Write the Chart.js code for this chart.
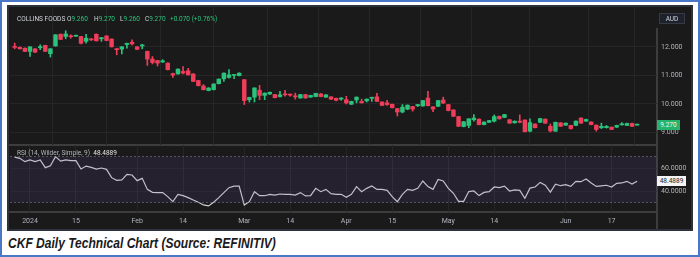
<!DOCTYPE html>
<html>
<head>
<meta charset="utf-8">
<script src="https://cdn.jsdelivr.net/npm/chart.js@4.4.1/dist/chart.umd.min.js"></script>
<style>
  html, body { margin: 0; padding: 0; background: #fff; width: 700px; height: 257px; overflow: hidden; }
  #frame { position: absolute; left: 0; top: 0; width: 700px; height: 257px; box-sizing: border-box; border: 2px solid #4a78c6; }
  #panel { position: absolute; left: 7px; top: 5px; width: 686px; height: 226px; box-sizing: border-box; background: #1a1a1a; border: 2px solid #2c313c; }
  canvas { position: absolute; }
  .txt { position: absolute; font-family: Roboto, sans-serif; font-size: 6.5px; line-height: 9px; white-space: nowrap; color: #d1d4dc; }
  .up { color: #2bc27c; }
  .sep { position: absolute; background: #3d3d3d; }
  #caption { position: absolute; left: 8px; top: 236px; font-family: "Liberation Sans", Arial, sans-serif; font-weight: bold; font-style: italic; font-size: 14px; line-height: 14px; color: #1a1a1a; white-space: nowrap; transform: scaleX(0.86); transform-origin: left top; }
</style>
</head>
<body>
<div id="frame"></div>
<div id="panel"></div>
<div class="sep" style="left:9px;top:144px;width:648px;height:2px"></div>
<div class="sep" style="left:9px;top:211px;width:648px;height:2px"></div>
<div class="sep" style="left:656px;top:28px;width:2px;height:201px"></div>
<canvas id="price" width="683" height="139" style="left:10px;top:6px"></canvas>
<canvas id="rsi" width="683" height="85" style="left:10px;top:145px"></canvas>

<div class="txt" style="left:17px;top:15px">COLLINS FOODS</div>
<div class="txt" style="left:67px;top:15px">O<span class="up">9.260</span></div>
<div class="txt" style="left:94px;top:15px">H<span class="up">9.270</span></div>
<div class="txt" style="left:120px;top:15px">L<span class="up">9.260</span></div>
<div class="txt" style="left:145px;top:15px">C<span class="up">9.270</span></div>
<div class="txt up" style="left:170px;top:15px">+0.070 (+0.76%)</div>
<div class="txt" style="left:659px;top:13px;width:26px;height:11px;line-height:11px;text-align:center;background:#1e222d;border:1px solid #363a45;box-sizing:border-box;font-size:6.5px">AUD</div>
<div class="txt" style="left:17px;top:149px;color:#b2b5be">RSI (14, Wilder, Simple, 9)&nbsp;&nbsp;<span style="color:#e6e6e6">48.4889</span></div>
<div id="lastBox" class="txt" style="left:657px;width:23px;height:10px;line-height:10px;text-align:center;background:#26b36b;color:#f4f4f4">9.270</div>
<div id="rsiBox" class="txt" style="left:657px;width:29px;height:10px;line-height:10px;text-align:center;background:#f4f4f4;color:#222">48.4889</div>
<div id="caption">CKF Daily Technical Chart (Source: REFINITIV)</div>

<script>
// daily candles, 27 Dec 2023 .. 24 Jun 2024 (trading days)
const openP = [
  11.99, 11.98, 11.95, 11.84, 11.93, 11.97, 12.05, 11.76, 12.03, 12.44,
  12.36, 12.37, 12.37, 12.36, 12.19, 12.27, 12.44, 12.28, 12.38, 12.27,
  11.93, 11.92, 12.08, 12.16, 12.00, 12.03, 11.84, 11.57, 11.52, 11.47,
  11.43, 11.06, 11.05, 11.14, 11.16, 11.05, 10.82, 10.63, 10.47, 10.50,
  10.71, 10.88, 10.93, 11.00, 10.99, 10.85, 10.15, 10.24, 10.48, 10.30,
  10.35, 10.33, 10.26, 10.34, 10.33, 10.27, 10.21, 10.33, 10.24, 10.26,
  10.35, 10.24, 10.25, 10.20, 10.17, 10.15, 9.99, 10.14, 10.09, 10.11,
  10.20, 10.25, 10.07, 10.04, 9.99, 9.84, 9.72, 9.82, 9.91, 9.94,
  9.93, 10.21, 9.90, 9.92, 10.14, 9.98, 9.79, 9.56, 9.21, 9.25,
  9.45, 9.47, 9.28, 9.36, 9.40, 9.57, 9.53, 9.45, 9.34, 9.40,
  9.44, 9.05, 9.30, 9.36, 9.47, 9.22, 9.05, 9.34, 9.26, 9.25,
  9.25, 9.51, 9.40, 9.37, 9.26, 9.17, 9.17, 9.19, 9.19, 9.27,
  9.25, 9.32, 9.26
];
const highP = [
  12.13, 12.00, 11.96, 12.01, 11.94, 12.07, 12.06, 11.94, 12.43, 12.45,
  12.56, 12.42, 12.41, 12.37, 12.44, 12.30, 12.45, 12.33, 12.39, 12.28,
  11.95, 12.01, 12.13, 12.24, 12.01, 12.09, 11.85, 11.66, 11.53, 11.55,
  11.44, 11.08, 11.23, 11.31, 11.25, 11.06, 10.83, 10.68, 10.57, 10.71,
  10.88, 11.09, 11.20, 11.03, 11.09, 10.86, 10.24, 10.57, 10.65, 10.39,
  10.42, 10.34, 10.44, 10.48, 10.35, 10.38, 10.34, 10.34, 10.31, 10.38,
  10.37, 10.33, 10.26, 10.21, 10.22, 10.27, 10.10, 10.25, 10.17, 10.18,
  10.24, 10.37, 10.08, 10.13, 10.00, 9.85, 9.98, 9.97, 9.92, 9.99,
  10.13, 10.44, 9.91, 10.13, 10.24, 9.99, 9.80, 9.57, 9.39, 9.49,
  9.63, 9.48, 9.38, 9.43, 9.62, 9.58, 9.64, 9.46, 9.41, 9.62,
  9.45, 9.48, 9.31, 9.50, 9.48, 9.30, 9.37, 9.35, 9.34, 9.26,
  9.41, 9.52, 9.47, 9.38, 9.27, 9.33, 9.25, 9.20, 9.26, 9.35,
  9.33, 9.33, 9.27
];
const lowP = [
  11.93, 11.92, 11.83, 11.66, 11.80, 11.90, 11.83, 11.64, 12.02, 12.25,
  12.28, 12.30, 12.36, 12.10, 12.13, 12.22, 12.20, 12.19, 12.21, 11.99,
  11.72, 11.75, 11.95, 12.07, 11.90, 11.93, 11.35, 11.40, 11.33, 11.45,
  11.19, 10.93, 11.04, 11.05, 11.01, 10.78, 10.63, 10.49, 10.46, 10.49,
  10.70, 10.79, 10.90, 10.89, 10.98, 9.98, 10.07, 10.07, 10.15, 10.15,
  10.33, 10.21, 10.24, 10.27, 10.27, 10.17, 10.20, 10.20, 10.23, 10.25,
  10.25, 10.23, 10.15, 10.11, 10.13, 10.00, 9.98, 10.04, 10.03, 10.07,
  10.09, 10.08, 9.94, 9.95, 9.86, 9.58, 9.69, 9.80, 9.75, 9.91,
  9.92, 9.93, 9.73, 9.91, 10.02, 9.76, 9.56, 9.21, 9.20, 9.17,
  9.40, 9.27, 9.27, 9.35, 9.37, 9.47, 9.52, 9.32, 9.33, 9.34,
  9.02, 9.02, 9.16, 9.35, 9.32, 9.02, 9.04, 9.21, 9.25, 9.12,
  9.24, 9.32, 9.39, 9.27, 9.05, 9.14, 9.16, 9.10, 9.18, 9.26,
  9.24, 9.21, 9.26
];
const closeP = [
  11.98, 11.93, 11.84, 12.00, 11.81, 12.00, 11.84, 11.93, 12.42, 12.26,
  12.45, 12.35, 12.39, 12.12, 12.30, 12.24, 12.21, 12.32, 12.22, 12.00,
  11.90, 12.00, 12.12, 12.10, 11.91, 12.05, 11.57, 11.45, 11.43, 11.51,
  11.20, 11.01, 11.22, 11.08, 11.02, 10.79, 10.64, 10.50, 10.56, 10.70,
  10.87, 11.08, 11.02, 11.01, 11.08, 10.12, 10.23, 10.56, 10.30, 10.38,
  10.41, 10.22, 10.32, 10.32, 10.31, 10.25, 10.33, 10.21, 10.30, 10.37,
  10.26, 10.32, 10.17, 10.13, 10.21, 10.04, 10.09, 10.24, 10.04, 10.17,
  10.23, 10.09, 9.95, 9.98, 9.87, 9.72, 9.89, 9.96, 9.82, 9.98,
  10.12, 9.94, 9.82, 10.12, 10.03, 9.77, 9.57, 9.22, 9.38, 9.48,
  9.51, 9.28, 9.37, 9.42, 9.56, 9.48, 9.63, 9.33, 9.40, 9.36,
  9.03, 9.35, 9.17, 9.49, 9.33, 9.06, 9.36, 9.22, 9.33, 9.14,
  9.40, 9.33, 9.46, 9.28, 9.11, 9.22, 9.22, 9.11, 9.25, 9.29,
  9.32, 9.22, 9.27
];
const rsiValues = [
  69.5, 68.4, 65.5, 67.0, 65.5, 67.0, 60.3, 62.0, 69.9, 66.0,
  67.0, 66.4, 66.4, 59.1, 61.7, 60.6, 59.1, 60.0, 58.8, 51.6,
  49.3, 49.6, 54.5, 53.9, 49.0, 51.0, 41.4, 38.8, 38.6, 38.6,
  35.1, 30.8, 37.1, 36.0, 34.2, 32.2, 30.2, 27.9, 27.0, 30.2,
  34.2, 38.6, 42.9, 44.3, 44.3, 27.8, 30.7, 39.4, 35.9, 35.9,
  37.1, 36.5, 37.4, 37.1, 37.1, 36.5, 38.6, 35.7, 36.0, 42.3,
  39.4, 41.4, 37.7, 37.1, 37.1, 34.5, 37.1, 43.8, 39.4, 42.3,
  44.3, 41.4, 41.4, 40.6, 35.1, 30.7, 37.1, 41.4, 40.6, 42.3,
  48.7, 43.8, 41.4, 50.1, 48.7, 42.3, 38.0, 31.0, 31.0, 39.5,
  40.0, 36.0, 38.8, 39.5, 43.5, 43.0, 44.3, 40.0, 41.0, 40.5,
  33.6, 42.5, 43.5, 47.5, 45.0, 39.0, 46.0, 44.6, 45.5, 44.0,
  48.4, 48.1, 50.4, 47.0, 44.0, 44.5, 45.0, 43.5, 46.7, 47.0,
  48.4, 46.0, 48.4889
];
const tickPos = [3, 12, 24, 33, 45, 54, 65, 74, 85, 94, 108, 117];
const tickLabels = ['2024', '15', 'Feb', '14', 'Mar', '14', 'Apr', '15', 'May', '14', 'Jun', '17'];
const priceTicks = [9, 10, 11, 12];
const rsiTicks = [40, 60];
const rsiUpper = 70;
const rsiLower = 30;

const xMin = -0.92, xMax = 125.9;
const upColor = '#2bc27c';
const downColor = '#ef3d5a';
const gridColor = '#262626';
const labelColor = '#b2b5be';
const tickFont = { family: 'Roboto', size: 7 };

const idx = closeP.map((_, i) => i);
const candleColor = idx.map(i => closeP[i] >= openP[i] ? upColor : downColor);

function timeAxis(showLabels) {
  return {
    type: 'linear',
    min: xMin,
    max: xMax,
    offset: false,
    afterBuildTicks: s => { s.ticks = tickPos.map(v => ({ value: v })); },
    afterFit: s => { s.height = showLabels ? 18 : 0; },
    grid: { color: gridColor, drawTicks: false },
    border: { display: false },
    ticks: {
      display: showLabels,
      color: labelColor,
      font: tickFont,
      padding: 5,
      maxRotation: 0,
      autoSkip: false,
      callback: v => tickLabels[tickPos.indexOf(v)]
    }
  };
}

function valueAxis(min, max, values, digits, gridCol) {
  return {
    position: 'right',
    min: min,
    max: max,
    afterBuildTicks: s => { s.ticks = values.map(v => ({ value: v })); },
    afterFit: s => { s.width = 36; s.paddingTop = 0; s.paddingBottom = 0; },
    grid: { color: gridCol, drawTicks: false },
    border: { display: false },
    ticks: { color: labelColor, font: tickFont, padding: 4, callback: v => v.toFixed(digits) }
  };
}

const priceChart = new Chart(document.getElementById('price'), {
  type: 'bar',
  data: {
    datasets: [
      {
        label: 'wick',
        data: idx.map(i => ({ x: i, y: [lowP[i], highP[i]] })),
        backgroundColor: candleColor,
        barThickness: 1,
        grouped: false,
        minBarLength: 1,
        order: 2
      },
      {
        label: 'body',
        data: idx.map(i => ({ x: i, y: [openP[i], closeP[i]] })),
        backgroundColor: candleColor,
        barThickness: 3.8,
        grouped: false,
        minBarLength: 1,
        order: 1
      }
    ]
  },
  options: {
    responsive: false,
    animation: false,
    layout: { padding: 0 },
    plugins: { legend: { display: false }, tooltip: { enabled: false } },
    scales: {
      x: timeAxis(false),
      y: valueAxis(8.566, 13.427, priceTicks, 3, gridColor)
    }
  }
});

const rsiChart = new Chart(document.getElementById('rsi'), {
  type: 'line',
  data: {
    datasets: [
      {
        data: [{ x: xMin, y: rsiUpper }, { x: xMax, y: rsiUpper }],
        borderColor: 'rgba(120,123,134,0.6)',
        borderWidth: 1,
        borderDash: [2, 2],
        pointRadius: 0,
        fill: { value: rsiLower },
        backgroundColor: 'rgba(126,87,194,0.13)'
      },
      {
        data: [{ x: xMin, y: rsiLower }, { x: xMax, y: rsiLower }],
        borderColor: 'rgba(120,123,134,0.6)',
        borderWidth: 1,
        borderDash: [2, 2],
        pointRadius: 0,
        fill: false
      },
      {
        data: idx.map(i => ({ x: i, y: rsiValues[i] })),
        borderColor: '#cfcfcf',
        borderWidth: 1.2,
        pointRadius: 0,
        fill: false
      }
    ]
  },
  options: {
    responsive: false,
    animation: false,
    layout: { padding: 0 },
    plugins: { legend: { display: false }, tooltip: { enabled: false } },
    scales: {
      x: timeAxis(true),
      y: valueAxis(21.74, 80, rsiTicks, 4, 'rgba(38,38,38,0.6)')
    }
  }
});

// value boxes on the right axis
const lastY = priceChart.scales.y.getPixelForValue(closeP[closeP.length - 1]);
document.getElementById('lastBox').style.top = (6 + lastY - 5) + 'px';
const rsiY = rsiChart.scales.y.getPixelForValue(rsiValues[rsiValues.length - 1]);
document.getElementById('rsiBox').style.top = (145 + rsiY - 5) + 'px';
</script>
</body>
</html>
